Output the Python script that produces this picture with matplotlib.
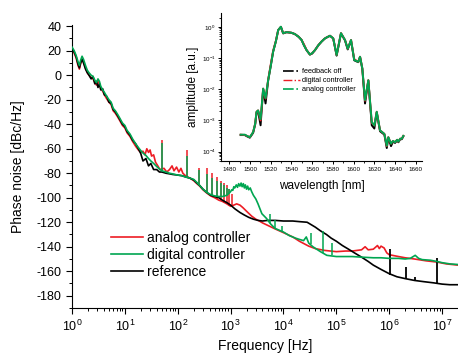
import numpy as np
import matplotlib
matplotlib.use("Agg")
import matplotlib.pyplot as plt
from matplotlib.lines import Line2D
from matplotlib.ticker import LogLocator, MultipleLocator, NullFormatter

plt.rcParams["font.family"] = ["Liberation Sans", "DejaVu Sans"]
plt.rcParams["mathtext.default"] = "regular"
plt.rcParams["axes.unicode_minus"] = False

RED = "#ed1c24"
GREEN = "#00a651"

# ---- main plot data: phase noise vs frequency ----
ref_f = [1, 1.1, 1.2, 1.3, 1.38, 1.45, 1.55, 1.65, 1.8, 1.95, 2.1, 2.3, 2.5, 2.7, 2.9,
         3.1, 3.3, 3.5, 3.8, 4.1, 4.5, 5, 5.5, 6, 6.6, 7.3, 8, 9, 10, 11, 12.5, 14, 16,
         18, 20, 22, 25, 28, 31, 35, 40, 45, 50, 60, 70, 80, 100, 120, 140, 170, 200,
         230, 260, 300, 350, 420, 500, 600, 700, 850, 1000, 1200, 1500, 1800, 2200,
         2700, 3300, 4000, 5000, 7000, 1e4, 1.5e4, 2e4, 2.8e4, 3.2e4, 4e4, 5e4, 6.5e4,
         8e4, 1e5, 1.3e5, 1.7e5, 2.2e5, 3e5, 4e5, 5e5, 7e5, 1e6, 1.4e6, 2e6, 3e6,
         4.5e6, 7e6, 1e7, 1.4e7, 2e7]
ref_db = [22, 19, 15, 9, 6, 10, 13, 10, 5, 2, 0, -3, -1, -7, -5,
          -10, -7, -12, -11, -16, -17, -22, -23, -28, -30, -33, -36, -40, -42, -46, -49, -53, -56,
          -60, -64, -70, -68, -74, -72, -77, -77, -79, -79, -80, -80.5, -81, -81.5, -82, -83, -84, -85.5,
          -88, -90, -93, -95.5, -98, -99, -100, -102, -104, -106, -109, -112, -114, -116,
          -117.5, -118.5, -119, -118.5, -118.5, -119, -119, -119.5, -120, -121.5, -124, -127, -130,
          -133, -135.5, -139, -142, -145, -148.5, -152, -155, -158.5, -162, -164.5, -166, -167.5,
          -168.5, -169.5, -170.5, -171, -171]

dig_f = [1, 1.1, 1.2, 1.3, 1.38, 1.45, 1.55, 1.65, 1.8, 1.95, 2.1, 2.3, 2.5, 2.7, 2.9,
         3.1, 3.3, 3.5, 3.8, 4.1, 4.5, 5, 5.5, 6, 6.6, 7.3, 8, 9, 10, 11, 12.5, 14, 16,
         18, 20, 22, 25, 28, 31, 35, 40, 45, 50, 60, 70, 80, 100, 120, 140, 170, 200,
         230, 260, 300, 350, 420, 500, 600, 700, 850, 950, 1000, 1050, 1100, 1150, 1200,
         1280, 1350, 1420, 1500, 1580, 1650, 1740, 1820, 1900, 2000, 2100, 2200, 2350,
         2500, 2700, 3000, 3300, 3900, 4800, 5600, 6900, 1e4, 1.3e4, 1.7e4, 2e4, 2.4e4,
         2.7e4, 3e4, 3.6e4, 5e4, 6.6e4, 1e5, 1.5e5, 2e5, 3e5, 5e5, 7e5, 1e6, 1.5e6,
         2e6, 2.5e6, 3.1e6, 3.6e6, 4.2e6, 6e6, 8e6, 1e7, 1.4e7, 2e7]
dig_db = [23, 20, 16, 11, 8, 12, 15.5, 13, 8, 4, 2, 0, -1, -4, -6,
          -3, -5, -9, -12, -14, -17, -20, -22, -27, -29, -32, -35, -39, -41, -45, -48, -52, -56,
          -59, -61.5, -63.5, -65.5, -68, -70, -72, -74.5, -76.5, -78, -79, -80, -80.5, -81.5, -82, -83, -84, -85,
          -87.5, -90, -93, -95.5, -97.5, -98.5, -99, -99, -98, -96, -95, -93.5, -94, -91, -92,
          -89.5, -91.5, -88.5, -90.5, -88, -91, -88.5, -92, -89.5, -93, -90.5, -93.5, -92,
          -95, -98, -101, -105, -113, -117, -121, -125, -128, -131, -133, -134, -135,
          -132, -137, -140, -144, -147, -148, -148, -148, -148.5, -149, -149, -149.5, -149.5,
          -150, -149.5, -147, -149.5, -150.5, -151, -152, -153, -154, -154.5]

ana_f = [1, 1.1, 1.2, 1.3, 1.38, 1.45, 1.55, 1.65, 1.8, 1.95, 2.1, 2.3, 2.5, 2.7, 2.9,
         3.1, 3.3, 3.5, 3.8, 4.1, 4.5, 5, 5.5, 6, 6.6, 7.3, 8, 9, 10, 11, 12.5, 14, 16,
         18, 20, 22, 24, 26, 28, 30, 32, 35, 38, 42, 46, 55, 62, 70, 78, 85, 95, 105,
         115, 125, 140, 170, 200, 230, 260, 300, 350, 420, 500, 600, 700, 850, 1000,
         1150, 1300, 1500, 1700, 2000, 2500, 3000, 3500, 4000, 5000, 7000, 1e4, 1.5e4,
         2e4, 3e4, 4e4, 6e4, 1e5, 1.5e5, 2e5, 3e5, 3.5e5, 4e5, 5e5, 6e5, 6.5e5, 7e5,
         8e5, 9e5, 1e6, 1.5e6, 2e6, 3e6, 5e6, 8e6, 1.2e7, 2e7]
ana_db = [21, 18, 14, 8, 5, 9, 13, 11, 6, 2, 0, -2, -3, -6, -8,
          -5, -7, -11, -13, -16, -19, -22, -24, -29, -31, -34, -37, -41, -43, -47, -50, -54, -58,
          -61, -63, -62, -65, -60, -63, -61, -66, -65, -71, -74, -77, -76, -79, -77, -74, -78, -75, -79,
          -76, -80, -82, -84, -86, -88.5, -90.5, -93.5, -96, -98.5, -100, -102, -103, -105, -107,
          -106, -105, -106, -108, -111, -115, -117.5, -119, -120.5, -122.5, -125.5, -128.5, -132,
          -135.5, -139.5, -141.5, -143, -144, -143.5, -143.5, -142.5, -140, -142.5, -142, -139, -141.5, -139.5,
          -141, -145, -146.5, -148, -149, -150, -151.5, -152.5, -154, -155]

# narrow spurs (frequency, bottom, top)
ana_spur_f = [50, 150, 250, 350, 450, 550, 650, 750, 850, 950, 1050]
ana_spur_lo = [-78, -83, -90, -96, -99, -101, -102, -104, -105, -107, -107]
ana_spur_hi = [-53, -61, -76, -76, -80, -83, -86, -88, -90, -93, -97]

dig_spur_f = [50, 150, 250, 350, 450, 550, 650, 750, 850, 950, 5600, 6900, 9500, 3.3e4, 5.5e4, 8.2e4]
dig_spur_lo = [-78, -83.5, -90, -95.5, -98, -99, -99, -99, -98, -96, -121, -125, -128, -138, -145, -147]
dig_spur_hi = [-55, -66, -77, -81, -84, -86, -88, -90, -92, -93, -113, -118, -123, -129, -127.5, -137]

ref_spur_f = [1.05e6, 2.05e6, 3.1e6, 7.9e6]
ref_spur_lo = [-163, -166, -167.5, -170]
ref_spur_hi = [-141.5, -156.5, -164.5, -149.5]

# ---- inset data: optical spectrum ----
wl = [1491, 1495, 1497, 1499.8, 1503, 1505, 1506.3, 1507.8, 1510.2, 1512.7, 1515, 1517.5,
      1520, 1522.3, 1525, 1527.2, 1529.8, 1532, 1535.3, 1540, 1543.3, 1547, 1549.8, 1552,
      1554.6, 1557.8, 1560, 1562.7, 1566, 1569.1, 1572, 1574, 1577.2, 1580.3, 1583.6,
      1587.8, 1591.7, 1594.3, 1597.5, 1600.6, 1604.5, 1606.2, 1608.4, 1611, 1614.2,
      1617.5, 1620, 1622.3, 1625.5, 1629.7, 1632, 1633.5, 1636.1, 1638, 1640, 1642,
      1643.2, 1645, 1646.5, 1648]
amp_analog = [3.5e-4, 3.5e-4, 3.2e-4, 2.9e-4, 4.2e-4, 7.9e-4, 1.9e-3, 2.1e-3, 1.1e-3, 1.05e-2, 5.2e-3, 1.95e-2,
              5.6e-2, 0.16, 0.35, 0.79, 1.02, 0.63, 0.68, 0.65, 0.59, 0.48, 0.38, 0.26,
              0.18, 0.13, 0.145, 0.18, 0.26, 0.34, 0.42, 0.46, 0.52, 0.43, 0.126,
              0.63, 0.38, 0.20, 0.38, 0.087, 0.076, 0.11, 0.047, 4.5e-3, 1.95e-2,
              8.9e-4, 6.9e-4, 1.9e-3, 4.8e-4, 3.7e-4, 1.55e-4, 2.9e-4, 1.8e-4, 2.2e-4, 2.0e-4, 2.4e-4,
              2.1e-4, 2.6e-4, 2.6e-4, 3.2e-4]
amp_digital = [3.5e-4, 3.4e-4, 3.2e-4, 2.9e-4, 4.2e-4, 7.9e-4, 1.9e-3, 2.1e-3, 1.0e-3, 1.05e-2, 5.0e-3, 2.0e-2,
               6.2e-2, 0.17, 0.36, 0.79, 1.0, 0.63, 0.68, 0.65, 0.59, 0.48, 0.38, 0.28,
               0.18, 0.13, 0.145, 0.18, 0.26, 0.34, 0.42, 0.46, 0.52, 0.43, 0.126,
               0.63, 0.38, 0.20, 0.38, 0.092, 0.076, 0.11, 0.047, 4.3e-3, 1.95e-2,
               8.5e-4, 6.9e-4, 1.9e-3, 4.8e-4, 3.7e-4, 1.5e-4, 2.9e-4, 1.8e-4, 2.2e-4, 2.0e-4, 2.4e-4,
               2.1e-4, 2.6e-4, 2.6e-4, 3.2e-4]
amp_off = [3.4e-4, 3.4e-4, 3.1e-4, 2.8e-4, 4.0e-4, 7.5e-4, 1.8e-3, 2.0e-3, 7.0e-4, 1.0e-2, 3.5e-3, 1.9e-2,
           5.6e-2, 0.16, 0.35, 0.79, 1.0, 0.62, 0.68, 0.65, 0.59, 0.48, 0.38, 0.26,
           0.18, 0.13, 0.14, 0.18, 0.26, 0.34, 0.42, 0.46, 0.52, 0.43, 0.12,
           0.62, 0.37, 0.19, 0.37, 0.085, 0.074, 0.11, 0.045, 3.5e-3, 1.9e-2,
           7.0e-4, 5.5e-4, 1.8e-3, 4.5e-4, 3.5e-4, 1.3e-4, 2.8e-4, 1.5e-4, 2.1e-4, 1.9e-4, 2.3e-4,
           2.0e-4, 2.5e-4, 2.5e-4, 3.1e-4]

fig = plt.figure(figsize=(4.58, 3.53), dpi=100)
W, H = 458, 353

ax = fig.add_axes([72 / W, 1 - 308 / H, 386 / W, 283 / H])
ax.plot(ana_f, ana_db, color=RED, lw=1.2, zorder=2)
ax.vlines(ana_spur_f, ana_spur_lo, ana_spur_hi, color=RED, lw=1.1, zorder=2)
ax.plot(ref_f, ref_db, color="black", lw=1.2, zorder=3)
ax.vlines(ref_spur_f, ref_spur_lo, ref_spur_hi, color="black", lw=1.3, zorder=3)
ax.plot(dig_f, dig_db, color=GREEN, lw=1.2, zorder=4)
ax.vlines(dig_spur_f, dig_spur_lo, dig_spur_hi, color=GREEN, lw=1.1, zorder=4)

ax.set_xscale("log")
ax.set_xlim(1, 2e7)
ax.set_ylim(-190, 41)
ax.xaxis.set_major_locator(LogLocator(base=10, numticks=12))
ax.xaxis.set_minor_locator(LogLocator(base=10, subs=np.arange(2, 10), numticks=12))
ax.xaxis.set_minor_formatter(NullFormatter())
ax.yaxis.set_major_locator(MultipleLocator(20))
ax.yaxis.set_minor_locator(MultipleLocator(10))
for s in ["top", "right"]:
    ax.spines[s].set_visible(False)
ax.tick_params(which="major", direction="out", length=4, width=0.8, labelsize=9)
ax.tick_params(which="minor", direction="out", length=2.5, width=0.7)
ax.set_xlabel("Frequency [Hz]", fontsize=10, labelpad=4)
ax.set_ylabel("Phase noise [dBc/Hz]", fontsize=10, labelpad=8)

handles = [Line2D([], [], color=RED, lw=1.2),
           Line2D([], [], color=GREEN, lw=1.2),
           Line2D([], [], color="black", lw=1.2)]
fig.legend(handles, ["analog controller", "digital controller", "reference"],
           loc="upper left", bbox_to_anchor=(111 / W, 1 - 231 / H), fontsize=10,
           frameon=False, handlelength=2.3, handletextpad=0.3, labelspacing=0.2,
           borderpad=0, borderaxespad=0)

# ---- inset ----
ins = fig.add_axes([221 / W, 1 - 161 / H, 201 / W, 148 / H])
ins.plot(wl, amp_off, color="black", lw=1.4)
ins.plot(wl, amp_digital, color=RED, lw=1.4)
ins.plot(wl, amp_analog, color=GREEN, lw=1.4)
ins.set_yscale("log")
ins.set_xlim(1472, 1666)
ins.set_ylim(5e-5, 2.8)
ins.xaxis.set_major_locator(MultipleLocator(20))
ins.xaxis.set_minor_locator(MultipleLocator(10))
ins.yaxis.set_major_locator(LogLocator(base=10, numticks=10))
ins.yaxis.set_minor_locator(LogLocator(base=10, subs=np.arange(2, 10), numticks=10))
ins.yaxis.set_minor_formatter(NullFormatter())
for s in ["top", "right"]:
    ins.spines[s].set_visible(False)
ins.tick_params(which="major", direction="out", length=2.5, width=0.7, labelsize=4.5, pad=1.5)
ins.tick_params(which="minor", direction="out", length=1.5, width=0.6)
ins.set_xlabel("wavelength [nm]", fontsize=8.5, labelpad=6)
ins.set_ylabel("amplitude [a.u.]", fontsize=8.5, labelpad=2)

ins_handles = [Line2D([], [], color="black", lw=1.2, ls="-."),
               Line2D([], [], color=RED, lw=1.0, ls="-."),
               Line2D([], [], color=GREEN, lw=1.2, ls="-.")]
fig.legend(ins_handles, ["feedback off", "digital controller", "analog controller"],
           loc="upper left", bbox_to_anchor=(283 / W, 1 - 68 / H), fontsize=5.3,
           frameon=False, handlelength=2.3, handletextpad=0.25, labelspacing=0.25,
           borderpad=0, borderaxespad=0)

fig.savefig("out.png", dpi=100)
